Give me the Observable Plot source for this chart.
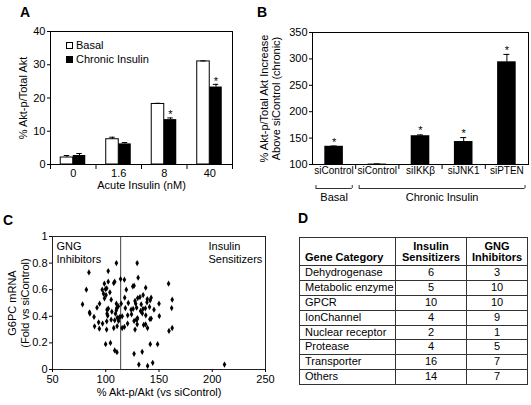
<!DOCTYPE html>
<html><head><meta charset="utf-8">
<script src="https://cdn.jsdelivr.net/npm/d3@7"></script>
<script src="https://cdn.jsdelivr.net/npm/@observablehq/plot@0.6"></script>
<style>
body{margin:0;background:#fff;font-family:"Liberation Sans",Arial,sans-serif;color:#000;}
#root{position:relative;width:531px;height:405px;overflow:hidden;background:#fff;}
.panel{position:absolute;}
.letter{position:absolute;font-weight:bold;font-size:14px;line-height:1;}
.legend{position:absolute;font-size:11px;line-height:14px;}
.legend .sw{display:inline-block;width:5px;height:5px;border:1px solid #000;margin-right:3px;vertical-align:0px;}
#tbl{position:absolute;left:299px;top:237px;border-collapse:collapse;table-layout:fixed;font-size:11px;border:1.5px solid #000;}
#tbl td,#tbl th{border:1px solid #333;padding:0 0 0 5px;line-height:13.8px;white-space:nowrap;overflow:hidden;}
#tbl td.c{text-align:center;padding:0;}
#tbl th{font-weight:bold;line-height:10.7px;padding:3px 0 3px 5px;vertical-align:bottom;text-align:left;}
#tbl th.c{text-align:center;padding:3px 0 3px 0;}
</style>
</head><body>
<div id="root"></div>
<script>
// ---------- Panel A data ----------
const aConc = ["0", "1.6", "8", "40"];
const aBasal = [2.1, 7.6, 18.2, 31.0];
const aBasalErr = [0.6, 0.6, 0.2, 0.15];
const aChronic = [2.7, 6.2, 13.5, 23.3];
const aChronicErr = [0.6, 0.4, 0.5, 0.8];
const aSig = [false, false, true, true];
const aYTicks = [0, 10, 20, 30, 40];
const aSeries = ["Basal", "Chronic Insulin"];
const aXLabel = "Acute Insulin (nM)";
const aYLabel = "% Akt-p/Total Akt";

// ---------- Panel B data ----------
const bLabels = ["siControl", "siControl", "siIKKβ", "siJNK1", "siPTEN"];
const bValues = [134.5, 100.8, 154.5, 143.5, 294.5];
const bErr = [0.5, 0.3, 1.5, 7.5, 14];
const bSig = [true, false, true, true, true];
const bGroups = ["Basal", "Chronic Insulin"];
const bGroupStart = [0, 1];
const bGroupEnd = [0, 4];
const bYTicks = [100, 150, 200, 250, 300, 350];
const bYLabel = "% Akt-p/Total Akt Increase\nAbove siControl (chronic)";

// ---------- Panel C data ----------
const cX = [110,129.5,102.3,84.2,130.4,113.9,117.5,102.3,98.7,107.5,108.4,125.4,126.6,159,81.8,96.7,99.7,100.9,103.9,119.3,137.5,97.9,100.3,98.8,105.1,117.8,130,132.1,135.1,139,142.6,162.4,78.2,94.2,110,114.5,121.2,127.5,128.1,133.3,138.7,141.7,150,91.8,101.2,102.4,110.3,111.8,105.7,109.9,118.4,123.8,125.7,129,132.7,135,137.2,141.1,145.3,161.9,85.1,84.8,89,101.2,101.8,109.1,113.3,115.4,120.6,124.2,128.7,129.5,129.8,134.3,137.6,141.5,142.6,150.3,93.3,97,100.9,105.1,108.4,110.8,112,112,120.5,126.6,129.5,135.6,137.4,139.2,89.5,94,100.8,107.5,110.7,115.4,117.5,127.5,159.4,162.4,99.9,104.4,108.4,110.5,126.6,134.2,141.8,148.7,131.1,139.3,144.1,211.5];
const cY = [0.8,0.8,0.74,0.73,0.69,0.68,0.675,0.66,0.645,0.65,0.66,0.625,0.63,0.645,0.6,0.6,0.605,0.61,0.58,0.6,0.615,0.57,0.56,0.535,0.525,0.54,0.537,0.545,0.56,0.53,0.54,0.525,0.49,0.495,0.495,0.495,0.5,0.515,0.495,0.49,0.505,0.52,0.495,0.465,0.45,0.457,0.462,0.475,0.435,0.445,0.462,0.45,0.455,0.465,0.44,0.455,0.46,0.47,0.45,0.462,0.42,0.43,0.395,0.42,0.405,0.42,0.395,0.4,0.407,0.415,0.375,0.378,0.387,0.422,0.407,0.378,0.383,0.402,0.355,0.345,0.362,0.375,0.37,0.39,0.385,0.365,0.345,0.365,0.34,0.335,0.34,0.312,0.325,0.307,0.3,0.312,0.327,0.312,0.32,0.3,0.29,0.312,0.19,0.2,0.143,0.13,0.118,0.133,0.19,0.19,0.037,0.027,0.05,0.037];
const cSplit = 114;
const cXTicks = [50, 100, 150, 200, 250];
const cYTicks = [0, 0.2, 0.4, 0.6, 0.8, 1];
const cXLabel = "% Akt-p/Akt (vs siControl)";
const cYLabel = "G6PC mRNA\n(Fold vs siControl)";
const cLeftNote = "GNG\nInhibitors";
const cRightNote = "Insulin\nSensitizers";

// ---------- Panel D data ----------
const dHeaders = ["Gene Category", "Insulin\nSensitizers", "GNG\nInhibitors"];
const dCategories = ["Dehydrogenase", "Metabolic enzyme", "GPCR", "IonChannel", "Nuclear receptor", "Protease", "Transporter", "Others"];
const dSensitizers = [6, 5, 10, 4, 2, 4, 16, 14];
const dInhibitors = [3, 10, 10, 9, 1, 5, 7, 7];

const FONT = '"Liberation Sans", Arial, sans-serif';
const baseStyle = {fontFamily: FONT, fontSize: "11px", background: "transparent", overflow: "visible", color: "#000"};
const root = document.getElementById("root");
function place(node, left, top) {
  const d = document.createElement("div");
  d.className = "panel";
  d.style.left = left + "px";
  d.style.top = top + "px";
  d.appendChild(node);
  root.appendChild(d);
}
function letter(t, left, top) {
  const d = document.createElement("div");
  d.className = "letter";
  d.textContent = t;
  d.style.left = left + "px";
  d.style.top = top + "px";
  root.appendChild(d);
}

// ---------- Panel A ----------
const aIdx = d3.range(aConc.length);
const bw = 0.275, capA = 0.06;
const aBounds = d3.range(aConc.length + 1).map(i => i - 0.5);
const plotA = Plot.plot({
  width: 265, height: 200,
  marginLeft: 50, marginRight: 33, marginTop: 31, marginBottom: 36,
  style: baseStyle,
  x: {domain: [-0.5, aConc.length - 0.5]},
  y: {domain: [0, 40]},
  marks: [
    Plot.rectY(aIdx, {x1: i => i - bw, x2: i => i, y1: 0, y2: i => aBasal[i], fill: "white", stroke: "black", strokeWidth: 1}),
    Plot.rectY(aIdx, {x1: i => i, x2: i => i + bw, y1: 0, y2: i => aChronic[i], fill: "black"}),
    Plot.ruleX(aIdx, {x: i => i - bw / 2, y1: i => aBasal[i], y2: i => aBasal[i] + aBasalErr[i]}),
    Plot.ruleY(aIdx, {x1: i => i - bw / 2 - capA, x2: i => i - bw / 2 + capA, y: i => aBasal[i] + aBasalErr[i]}),
    Plot.ruleX(aIdx, {x: i => i + bw / 2, y1: i => aChronic[i], y2: i => aChronic[i] + aChronicErr[i]}),
    Plot.ruleY(aIdx, {x1: i => i + bw / 2 - capA, x2: i => i + bw / 2 + capA, y: i => aChronic[i] + aChronicErr[i]}),
    Plot.text(aIdx.filter(i => aSig[i]), {x: i => i + bw / 2, y: i => aChronic[i] + aChronicErr[i], text: () => "*", dy: -3, fontSize: 11}),
    Plot.frame({stroke: "#000"}),
    Plot.axisY({ticks: aYTicks, tickSize: 3, tickPadding: 2, label: null}),
    Plot.axisX({ticks: aIdx, tickFormat: i => aConc[i], tickSize: 0, tickPadding: 5, label: null}),
    Plot.axisX({ticks: aBounds, tickFormat: () => "", tickSize: 5, label: null}),
    Plot.text([aXLabel], {frameAnchor: "bottom", dy: 24, text: d => d}),
    Plot.text([aYLabel], {frameAnchor: "left", dx: -27, rotate: -90, textAnchor: "middle", lineAnchor: "middle", text: d => d})
  ]
});
place(plotA, 0, 0);

// legend A
const leg = document.createElement("div");
leg.className = "legend";
leg.style.left = "66px";
leg.style.top = "38px";
leg.innerHTML = aSeries.map((s, k) =>
  `<div><span class="sw" style="background:${k === 0 ? "#fff" : "#000"}"></span>${s}</div>`).join("");
root.appendChild(leg);

// ---------- Panel B ----------
const bIdx = d3.range(bLabels.length);
const bhw = 0.215, capB = 0.07;
const gIdx = d3.range(bGroups.length);
const bEnds = gIdx.flatMap(g => [bGroupStart[g] - 0.42, bGroupEnd[g] + 0.42]);
const bH = 210, bTop = 32, bBottom = 46;
const plotB = Plot.plot({
  width: 281, height: bH,
  marginLeft: 62, marginRight: 3, marginTop: bTop, marginBottom: bBottom,
  style: baseStyle,
  x: {domain: [-0.5, bLabels.length - 0.5]},
  y: {domain: [100, 350]},
  marks: [
    Plot.rectY(bIdx, {x1: i => i - bhw, x2: i => i + bhw, y1: 100, y2: i => bValues[i], fill: "black"}),
    Plot.ruleX(bIdx, {x: i => i, y1: i => bValues[i], y2: i => bValues[i] + bErr[i]}),
    Plot.ruleY(bIdx, {x1: i => i - capB, x2: i => i + capB, y: i => bValues[i] + bErr[i]}),
    Plot.text(bIdx.filter(i => bSig[i]), {x: i => i, y: i => bValues[i] + bErr[i], text: () => "*", dy: -4, fontSize: 11}),
    Plot.frame({stroke: "#000"}),
    Plot.axisY({ticks: bYTicks, tickSize: 3, tickPadding: 2, label: null}),
    Plot.axisX({ticks: bIdx, tickFormat: i => bLabels[i], tickSize: 0, tickPadding: 2, fontSize: 10, label: null}),
    Plot.axisX({ticks: bIdx.slice(1).map(i => i - 0.5), tickFormat: () => "", tickSize: 5, label: null}),
    Plot.ruleY(gIdx, {x1: g => bGroupStart[g] - 0.42, x2: g => bGroupEnd[g] + 0.42, y: 100, dy: 24, stroke: "#333"}),
    Plot.tickX(bEnds, {x: d => d, insetTop: bH - bTop - bBottom - 3, dy: 24, stroke: "#333"}),
    Plot.text(gIdx, {x: g => (bGroupStart[g] + bGroupEnd[g]) / 2, y: 100, dy: 33, text: g => bGroups[g]}),
    Plot.text([bYLabel], {frameAnchor: "left", dx: -42, rotate: -90, textAnchor: "middle", lineAnchor: "middle", lineHeight: 1.1, text: d => d})
  ]
});
place(plotB, 250, 0);

// ---------- Panel C ----------
const cIdx = d3.range(cX.length);
const plotC = Plot.plot({
  width: 280, height: 205,
  marginLeft: 52, marginRight: 15, marginTop: 36, marginBottom: 36,
  style: baseStyle,
  x: {domain: [50, 250]},
  y: {domain: [0, 1]},
  marks: [
    Plot.ruleX([cSplit], {stroke: "#444"}),
    Plot.dot(cIdx, {x: i => cX[i], y: i => cY[i], symbol: "diamond", r: 1.9, fill: "black"}),
    Plot.frame({stroke: "#222"}),
    Plot.axisY({ticks: cYTicks, tickFormat: d => String(d), tickSize: 3, tickPadding: 2, label: null}),
    Plot.axisX({ticks: cXTicks, tickSize: 3, tickPadding: 3, label: null}),
    Plot.text([cXLabel], {frameAnchor: "bottom", dy: 26, text: d => d}),
    Plot.text([cYLabel], {frameAnchor: "left", dx: -34, rotate: -90, textAnchor: "middle", lineAnchor: "middle", lineHeight: 1.15, text: d => d}),
    Plot.text([cLeftNote], {frameAnchor: "top-left", dx: 4, dy: 4, textAnchor: "start", lineAnchor: "top", lineHeight: 1.2, text: d => d}),
    Plot.text([cRightNote], {frameAnchor: "top-right", dx: -57, dy: 4, textAnchor: "start", lineAnchor: "top", lineHeight: 1.2, text: d => d})
  ]
});
place(plotC, 0, 200);

// ---------- Panel D (table) ----------
const tbl = document.createElement("table");
tbl.id = "tbl";
const colW = [96, 71, 61];
let html = "<colgroup>" + colW.map(w => `<col style="width:${w}px">`).join("") + "</colgroup>";
html += "<tr>" + dHeaders.map((h, k) => `<th class="${k ? "c" : ""}">${h.replace("\n", "<br>")}</th>`).join("") + "</tr>";
dCategories.forEach((c, i) => {
  html += `<tr><td>${c}</td><td class="c">${dSensitizers[i]}</td><td class="c">${dInhibitors[i]}</td></tr>`;
});
tbl.innerHTML = html;
root.appendChild(tbl);

letter("A", 20, 5);
letter("B", 257, 5);
letter("C", 3, 213);
letter("D", 298, 211);
</script>
</body></html>
